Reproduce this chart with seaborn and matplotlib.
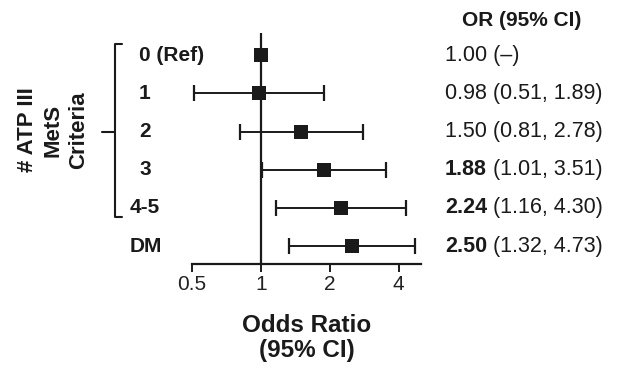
import matplotlib
matplotlib.use("Agg")
import matplotlib.pyplot as plt
import matplotlib.transforms as mtransforms
import seaborn as sns
import pandas as pd

# data
groups = ['0 (Ref)', '1', '2', '3', '4-5', 'DM']
odds = [1.00, 0.98, 1.50, 1.88, 2.24, 2.50]
lower = [None, 0.51, 0.81, 1.01, 1.16, 1.32]
upper = [None, 1.89, 2.78, 3.51, 4.30, 4.73]
or_bold = ['', '', '', '1.88', '2.24', '2.50']
or_text = ['1.00 (–)', '0.98 (0.51, 1.89)', '1.50 (0.81, 2.78)',
           ' (1.01, 3.51)', ' (1.16, 4.30)', ' (1.32, 4.73)']
xticks = [0.5, 1, 2, 4]

sns.set_style('white')
plt.rcParams['font.family'] = ['Liberation Sans', 'DejaVu Sans']
ink = '#1a1a1a'

df = pd.DataFrame({'group': groups, 'odds': odds, 'row': range(len(groups))})

fig = plt.figure(figsize=(6.19, 3.71), dpi=100)
W, H = 619, 371
ax = fig.add_axes([192 / W, 1 - 264 / H, 229 / W, 231 / H])

ax.axvline(1, color=ink, lw=1.6, zorder=1)
for i in range(len(groups)):
    if lower[i] is None:
        continue
    ax.errorbar(odds[i], i, xerr=[[odds[i] - lower[i]], [upper[i] - odds[i]]],
                fmt='none', ecolor=ink, elinewidth=1.4, capsize=5.5, capthick=1.6, zorder=2)
sns.scatterplot(data=df, x='odds', y='row', marker='s', s=100, color=ink,
                edgecolor=ink, linewidth=0, ax=ax, zorder=3, legend=False)

ax.set_xscale('log')
ax.set_xlim(0.5, 5)
ax.set_ylim(5.47, -0.58)
ax.set_xticks(xticks)
ax.set_xticklabels(['0.5', '1', '2', '4'])
ax.minorticks_off()
ax.set_yticks([])
ax.set_ylabel('')
for s in ['top', 'right', 'left']:
    ax.spines[s].set_visible(False)
ax.spines['bottom'].set_color(ink)
ax.spines['bottom'].set_linewidth(1.6)
ax.tick_params(axis='x', direction='out', length=6, width=1.4, color=ink,
               labelsize=15, labelcolor='#222222', pad=2, bottom=True)
ax.set_xlabel('Odds Ratio\n(95% CI)', fontsize=17.5, fontweight='bold', color=ink,
              labelpad=14, linespacing=1.15)

# row labels
tr = mtransforms.blended_transform_factory(fig.transFigure, ax.transData)
for i, g in enumerate(groups):
    x0 = 130 if g in ('4-5', 'DM') else 139
    ax.text(x0 / W, i, g, transform=tr, ha='left', va='center', fontsize=15,
            fontweight='bold', color=ink)

# bracket
bx = 115 / W
ax.plot([122 / W, bx, bx, 122 / W], [-0.29, -0.29, 4.24, 4.24], transform=tr,
        color=ink, lw=1.5, clip_on=False)
ax.plot([102 / W, bx], [2, 2], transform=tr, color=ink, lw=1.5, clip_on=False)
fig.text(53 / W, 1 - 130 / H, '# ATP III\nMetS\nCriteria', rotation=90,
         ha='center', va='center', fontsize=16, fontweight='bold', color=ink,
         multialignment='center', linespacing=1.3)

# OR column
fig.text(522 / W, 1 - 20 / H, 'OR (95% CI)', ha='center', va='center',
         fontsize=15, fontweight='bold', color=ink)
for i in range(len(groups)):
    if or_bold[i]:
        b = ax.text(445 / W, i, or_bold[i], transform=tr, ha='left', va='center',
                    fontsize=15.5, fontweight='bold', color=ink)
        ax.annotate(or_text[i], xy=(1, 0), xycoords=b, ha='left', va='bottom',
                    fontsize=15.5, color=ink)
    else:
        ax.text(445 / W, i, or_text[i], transform=tr, ha='left', va='center',
                fontsize=15.5, color=ink)

fig.savefig('out.png', dpi=100)
